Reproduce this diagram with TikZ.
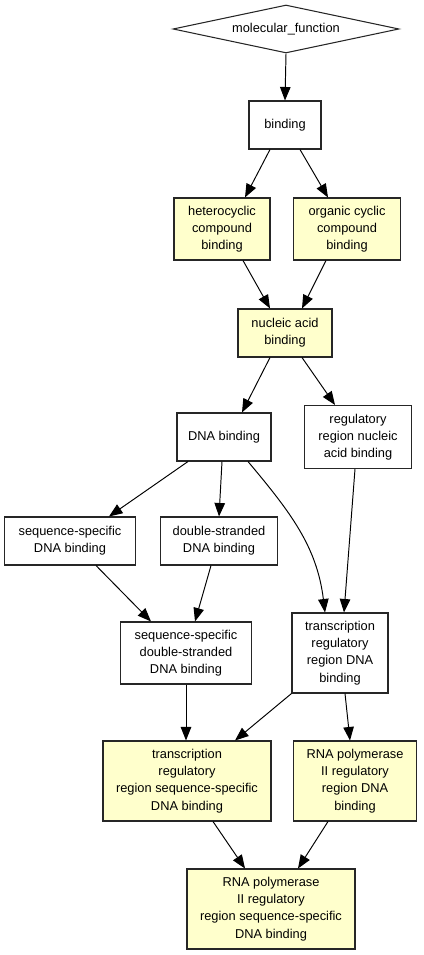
\documentclass[tikz,border=0pt]{standalone}
\usepackage{fontspec}
\setmainfont{Liberation Sans}
\usetikzlibrary{shapes.geometric,arrows.meta}
\definecolor{hityellow}{HTML}{FFFFCC}
\begin{document}
\begin{tikzpicture}[x=0.02cm,y=-0.02cm,
                        term/.style={shape=rectangle,draw=black!85,line width=0.6pt,fill=white,align=center,inner sep=0pt,font=\fontsize{7.3}{9.8}\selectfont},
                        hit/.style={term,fill=hityellow},
                        edge/.style={line width=0.55pt,-{Triangle[length=0.27cm,width=0.21cm]}}
                        ]
                        \useasboundingbox (0,0) rectangle (423,955);
                        %Wurzel
                        \node [term,shape=diamond,shape aspect=4.7,minimum width=4.52cm,minimum height=0.96cm] (mf) at (286,29) {molecular\_function};
                        \node [term,minimum width=1.44cm,minimum height=0.96cm] (binding) at (285,125) {binding};
                        %Ebene 2
                        \node [hit,minimum width=1.92cm,minimum height=1.24cm] (hetero) at (222,229) {heterocyclic\\compound\\binding};
                        \node [hit,minimum width=2.14cm,minimum height=1.24cm] (organic) at (347,229) {organic cyclic\\compound\\binding};
                        \node [hit,minimum width=1.88cm,minimum height=0.96cm] (nucleic) at (285,333) {nucleic acid\\binding};
                        %DNA
                        \node [term,minimum width=1.88cm,minimum height=0.96cm] (dna) at (224,437) {DNA binding};
                        \node [term,minimum width=2.14cm,minimum height=1.26cm] (regnuc) at (358,437) {regulatory\\region nucleic\\acid binding};
                        \node [term,minimum width=2.62cm,minimum height=0.96cm] (seqspec) at (70,541) {sequence-specific\\DNA binding};
                        \node [term,minimum width=2.34cm,minimum height=0.96cm] (double) at (219,541) {double-stranded\\DNA binding};
                        \node [term,minimum width=2.62cm,minimum height=1.24cm] (ssds) at (186,653) {sequence-specific\\double-stranded\\DNA binding};
                        \node [term,minimum width=1.92cm,minimum height=1.60cm] (trrdna) at (340,653) {transcription\\regulatory\\region DNA\\binding};
                        %Blaetter
                        \node [hit,minimum width=3.36cm,minimum height=1.60cm] (trrssdb) at (187,781) {transcription\\regulatory\\region sequence-specific\\DNA binding};
                        \node [hit,minimum width=2.46cm,minimum height=1.60cm] (rnadna) at (355,781) {RNA polymerase\\II regulatory\\region DNA\\binding};
                        \node [hit,minimum width=3.36cm,minimum height=1.60cm] (rnass) at (271,909) {RNA polymerase\\II regulatory\\region sequence-specific\\DNA binding};
                        %Kanten
                        \draw [edge] (mf.south) -- (binding.north);
                        \draw [edge] ([xshift=-0.3cm]binding.south) -- ([xshift=0.46cm]hetero.north);
                        \draw [edge] ([xshift=0.3cm]binding.south) -- ([xshift=-0.38cm]organic.north);
                        \draw [edge] ([xshift=0.42cm]hetero.south) -- ([xshift=-0.3cm]nucleic.north);
                        \draw [edge] ([xshift=-0.42cm]organic.south) -- ([xshift=0.34cm]nucleic.north);
                        \draw [edge] ([xshift=-0.3cm]nucleic.south) -- ([xshift=0.36cm]dna.north);
                        \draw [edge] ([xshift=0.34cm]nucleic.south) -- ([xshift=-0.46cm]regnuc.north);
                        \draw [edge] ([xshift=-0.72cm]dna.south) -- ([xshift=0.78cm]seqspec.north);
                        \draw [edge] ([xshift=-0.04cm]dna.south) -- (double.north);
                        \draw [edge] ([xshift=0.48cm]dna.south) to[out=-50,in=97] ([xshift=-0.3cm]trrdna.north);
                        \draw [edge] ([xshift=-0.06cm]regnuc.south) -- ([xshift=0.08cm]trrdna.north);
                        \draw [edge] ([xshift=0.52cm]seqspec.south) -- ([xshift=-0.7cm]ssds.north);
                        \draw [edge] ([xshift=-0.16cm]double.south) -- ([xshift=0.18cm]ssds.north);
                        \draw [edge] (ssds.south) -- ([xshift=-0.02cm]trrssdb.north);
                        \draw [edge] (trrdna.south west) -- ([xshift=0.96cm]trrssdb.north);
                        \draw [edge] ([xshift=0.1cm]trrdna.south) -- ([xshift=-0.1cm]rnadna.north);
                        \draw [edge] ([xshift=0.52cm]trrssdb.south) -- ([xshift=-0.52cm]rnass.north);
                        \draw [edge] ([xshift=-0.54cm]rnadna.south) -- ([xshift=0.54cm]rnass.north);
                \end{tikzpicture}
\end{document}
